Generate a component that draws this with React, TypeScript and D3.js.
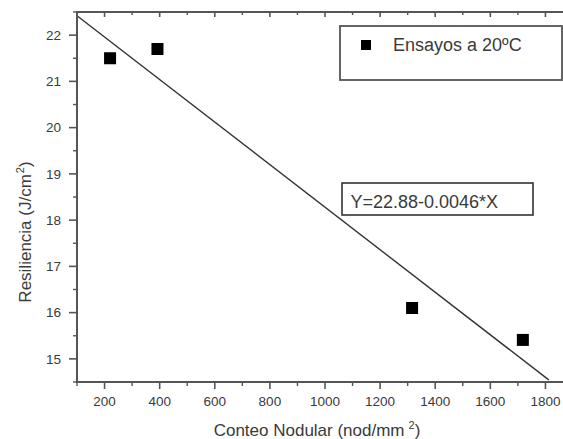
import React from "react";
import * as d3 from "d3";

const W = 563;
const H = 439;

const nodCount = [220, 392, 1316, 1718];
const resilience = [21.5, 21.7, 16.1, 15.41];
const fitRange = [100, 1812];
const fitIntercept = 22.88;
const fitSlope = -0.0046;
const xTicks = [200, 400, 600, 800, 1000, 1200, 1400, 1600, 1800];
const xMinor = [100, 300, 500, 700, 900, 1100, 1300, 1500, 1700, 1900];
const yTicks = [15, 16, 17, 18, 19, 20, 21, 22];
const yMinor = [14.5, 15.5, 16.5, 17.5, 18.5, 19.5, 20.5, 21.5, 22.5];
const legendLabel = "Ensayos a 20ºC";
const equationLabel = "Y=22.88-0.0046*X";

const FONT = "'Liberation Sans', Arial, Helvetica, sans-serif";
const AX = "#555";
const TXT = "#3a3a3a";

export default function App() {
  const x = d3.scaleLinear().domain([100, 1900]).range([77, 573]);
  const y = d3.scaleLinear().domain([14.5, 22.5]).range([382, 12]);
  const left = x(100);
  const top = y(22.5);
  const bottom = y(14.5);
  const line = d3
    .line<number>()
    .x((d) => x(d))
    .y((d) => y(fitIntercept + fitSlope * d));
  const ms = 12;

  return (
    <svg
      width={W}
      height={H}
      style={{ position: "absolute", left: 0, top: 0, background: "#fff" }}
      fontFamily={FONT}
    >
      <rect x={0} y={0} width={W} height={H} fill="#fff" />
      <path d={line(fitRange) || ""} fill="none" stroke="#333" strokeWidth={1.4} />
      {nodCount.map((n, i) => (
        <rect
          key={i}
          x={x(n) - ms / 2}
          y={y(resilience[i]) - ms / 2}
          width={ms}
          height={ms}
          fill="#000"
        />
      ))}
      <line x1={left} x2={left} y1={top} y2={bottom + 1} stroke={AX} strokeWidth={2} />
      <line x1={left - 1} x2={W} y1={bottom} y2={bottom} stroke={AX} strokeWidth={2} />
      <line x1={left - 1} x2={W} y1={top} y2={top} stroke={AX} strokeWidth={2} />
      {xTicks.map((t) => (
        <g key={"xb" + t}>
          <line x1={x(t)} x2={x(t)} y1={bottom} y2={bottom + 7} stroke={AX} strokeWidth={1.6} />
          <line x1={x(t)} x2={x(t)} y1={top} y2={top + 5} stroke={AX} strokeWidth={1.6} />
          <text x={x(t)} y={406} textAnchor="middle" fontSize={13.5} fill={TXT}>
            {t}
          </text>
        </g>
      ))}
      {xMinor.map((t) => (
        <g key={"xm" + t}>
          <line x1={x(t)} x2={x(t)} y1={bottom} y2={bottom + 4} stroke={AX} strokeWidth={1.4} />
          <line x1={x(t)} x2={x(t)} y1={top} y2={top + 3} stroke={AX} strokeWidth={1.4} />
        </g>
      ))}
      {yTicks.map((t) => (
        <g key={"y" + t}>
          <line x1={left - 8} x2={left} y1={y(t)} y2={y(t)} stroke={AX} strokeWidth={1.6} />
          <text x={61} y={y(t) + 4.8} textAnchor="end" fontSize={13.5} fill={TXT}>
            {t}
          </text>
        </g>
      ))}
      {yMinor.map((t) => (
        <line key={"ym" + t} x1={left - 4} x2={left} y1={y(t)} y2={y(t)} stroke={AX} strokeWidth={1.4} />
      ))}
      <text x={317} y={436} textAnchor="middle" fontSize={17} fill={TXT}>
        Conteo Nodular (nod/mm
        <tspan dx={4} dy={-7} fontSize={11}>2</tspan>
        <tspan dy={7}>)</tspan>
      </text>
      <text
        transform="translate(31,232) rotate(-90)"
        textAnchor="middle"
        fontSize={17}
        fill={TXT}
      >
        Resiliencia (J/cm
        <tspan dx={1} dy={-7} fontSize={11}>2</tspan>
        <tspan dy={7}>)</tspan>
      </text>
      <rect x={340} y={26} width={222} height={54} fill="#fff" stroke={AX} strokeWidth={1.8} />
      <rect x={361} y={40} width={10} height={10} fill="#000" />
      <text x={393} y={50.5} fontSize={18} fill={TXT}>
        {legendLabel}
      </text>
      <rect x={342} y={183} width={191} height={32} fill="#fff" stroke="#333" strokeWidth={1.6} />
      <text x={350.5} y={207.5} fontSize={18} fill={TXT}>
        {equationLabel}
      </text>
    </svg>
  );
}
